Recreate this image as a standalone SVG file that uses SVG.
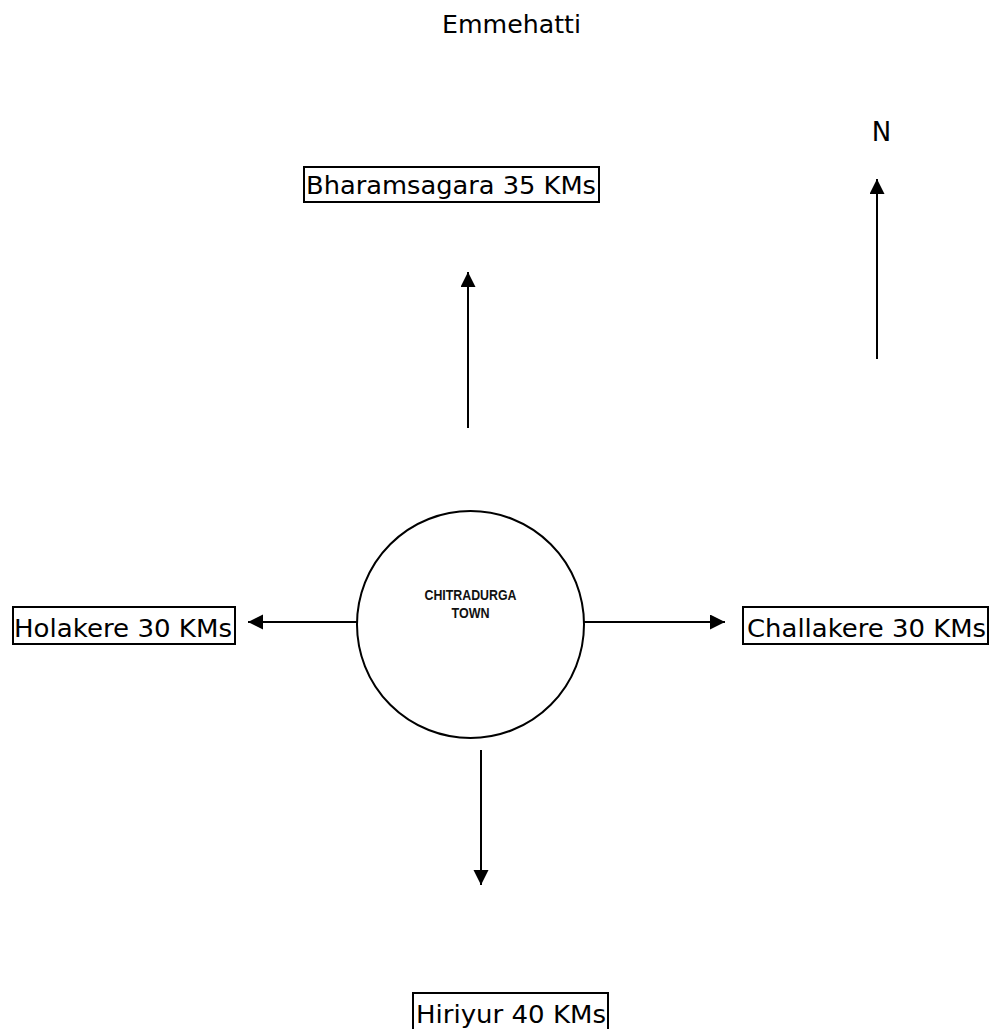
<svg xmlns="http://www.w3.org/2000/svg" width="992" height="1029" viewBox="0 0 992 1029">
<style>
.lbl{font-family:"DejaVu Sans","Liberation Sans",sans-serif;font-size:25px;fill:#000}
.box{fill:none;stroke:#000;stroke-width:2}
.con{stroke:#000;stroke-width:2;fill:none}
.town{font-family:"Liberation Sans",Arial,sans-serif;font-weight:bold;font-size:15px;fill:#111;text-anchor:middle}
</style>
<defs>
<marker id="ah" markerUnits="userSpaceOnUse" markerWidth="17" markerHeight="17" refX="15" refY="7.5" orient="auto">
<path d="M0,0 L15,7.5 L0,15 Z" fill="#000"/>
</marker>
</defs>
<rect width="992" height="1029" fill="#fff"/>
<g id="title"><text class="lbl" x="442" y="33" textLength="139" lengthAdjust="spacingAndGlyphs">Emmehatti</text></g>
<g id="north"><text class="lbl" x="881.5" y="141" style="font-size:26px" text-anchor="middle">N</text></g>
<g id="bharamsagara">
<rect class="box" x="304" y="167" width="295" height="35"/>
<text class="lbl" x="306" y="194" textLength="290" lengthAdjust="spacingAndGlyphs">Bharamsagara 35 KMs</text>
</g>
<g id="holakere">
<rect class="box" x="13" y="607" width="222" height="37"/>
<text class="lbl" x="14" y="637" textLength="218" lengthAdjust="spacingAndGlyphs">Holakere 30 KMs</text>
</g>
<g id="challakere">
<rect class="box" x="743" y="607" width="245" height="37"/>
<text class="lbl" x="747" y="637" textLength="239" lengthAdjust="spacingAndGlyphs">Challakere 30 KMs</text>
</g>
<g id="hiriyur">
<rect class="box" x="413" y="993" width="195" height="40"/>
<text class="lbl" x="416" y="1023" textLength="190" lengthAdjust="spacingAndGlyphs">Hiriyur 40 KMs</text>
</g>
<g id="town">
<circle cx="470.5" cy="624.5" r="113.5" fill="#fff" stroke="#000" stroke-width="2"/>
<text class="town" x="470.5" y="600" textLength="92" lengthAdjust="spacingAndGlyphs">CHITRADURGA</text>
<text class="town" x="470.5" y="618" textLength="38" lengthAdjust="spacingAndGlyphs">TOWN</text>
</g>
<g id="connectors">
<line class="con" x1="877" y1="359" x2="877" y2="179" marker-end="url(#ah)"/>
<line class="con" x1="468" y1="428" x2="468" y2="272" marker-end="url(#ah)"/>
<line class="con" x1="357" y1="622" x2="248" y2="622" marker-end="url(#ah)"/>
<line class="con" x1="584" y1="622" x2="725" y2="622" marker-end="url(#ah)"/>
<line class="con" x1="481" y1="750" x2="481" y2="885" marker-end="url(#ah)"/>
</g>
</svg>
